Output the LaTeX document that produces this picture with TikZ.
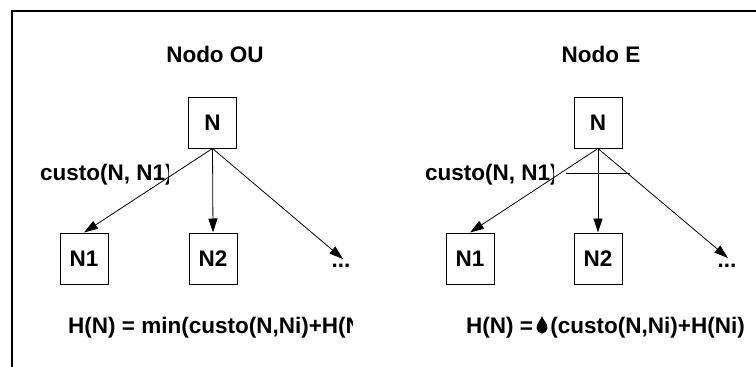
\documentclass[tikz,border=0pt]{standalone}
\usepackage{fontspec}
\setmainfont{Liberation Sans}
\usetikzlibrary{arrows.meta}
\begin{document}
\begin{tikzpicture}[x=1pt,y=-1pt,
  lbl/.style={font=\bfseries\fontsize{22.5}{26}\selectfont, inner sep=0pt},
  box/.style={lbl, draw, line width=1pt, minimum width=48, minimum height=51, text depth=0pt},
  arr/.style={-{Triangle[length=14pt,width=9pt]}, line width=0.8pt}]
\useasboundingbox (0,0) rectangle (756,367);
% frame
\coordinate (fa) at (12,367);
\coordinate (fb) at (12,11);
\coordinate (fc) at (756,11);
\draw[line width=2.5pt] (fa) -- (fb) -- (fc);
% left panel
\node[lbl, anchor=base] (t1) at (215,62.5) {Nodo OU};
\node[box] (n) at (212.5,122.5) {N};
\node[box] (n1) at (84,258.5) {N1};
\node[box] (n2) at (213,258.5) {N2};
\node[lbl, anchor=base] (d1) at (341,267) {...};
\coordinate (e1) at (343,259);
\begin{scope}
  \clip (0,0) rectangle (168,367);
  \node[lbl, anchor=base west] (c1) at (40,180.5) {custo(N, N1)};
\end{scope}
\begin{scope}
  \clip (0,0) rectangle (352,367);
  \node[lbl, anchor=base west] (f1) at (68,333) {H(N) = min(custo(N,Ni)+H(Ni))};
\end{scope}
\draw[arr] (n.south) -- (n1.north);
\draw[arr] (n.south) -- (n2.north);
\draw[arr] (n.south) -- (e1);
% right panel
\node[lbl, anchor=base] (t2) at (601,62.5) {Nodo E};
\node[box] (m) at (598,122.5) {N};
\node[box] (m1) at (470,258.5) {N1};
\node[box] (m2) at (598,258.5) {N2};
\node[lbl, anchor=base] (d2) at (727,267) {...};
\coordinate (e2) at (728,258);
\begin{scope}
  \clip (380,0) rectangle (553,367);
  \node[lbl, anchor=base west] (c2) at (425,180.5) {custo(N, N1)};
\end{scope}
\node[lbl, anchor=base west] (f2a) at (466,333) {H(N) =};
\node[lbl, anchor=base east] (f2b) at (745,333) {(custo(N,Ni)+H(Ni)};
\fill (542,316) .. controls (543,320) and (547.5,323) .. (547.5,328)
  .. controls (547.5,331) and (545,333.5) .. (542,333.5)
  .. controls (539,333.5) and (536.5,331) .. (536.5,328)
  .. controls (536.5,323) and (541,320) .. cycle;
\draw[arr] (m.south) -- (m1.north);
\draw[arr] (m.south) -- (m2.north);
\draw[arr] (m.south) -- (e2);
\coordinate (h1) at (566,173);
\coordinate (h2) at (630,173);
\draw[line width=0.8pt] (h1) -- (h2);
\end{tikzpicture}
\end{document}
